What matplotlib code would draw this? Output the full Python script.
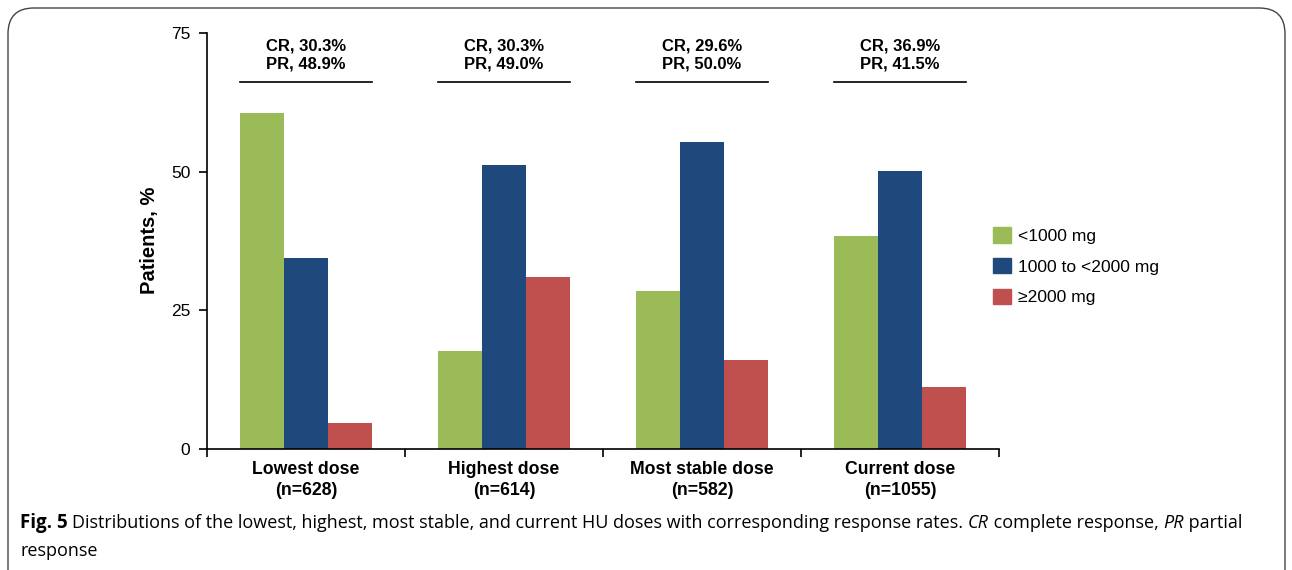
import matplotlib
matplotlib.use("Agg")
import matplotlib.pyplot as plt
from matplotlib.patches import FancyBboxPatch, Patch
import numpy as np

categories = ["Lowest dose\n(n=628)", "Highest dose\n(n=614)", "Most stable dose\n(n=582)", "Current dose\n(n=1055)"]
series_names = ["<1000 mg", "1000 to <2000 mg", "\u22652000 mg"]
low_vals = [60.6, 17.7, 28.5, 38.4]
mid_vals = [34.4, 51.2, 55.3, 50.1]
high_vals = [4.7, 31.0, 16.0, 11.2]
response_labels = ["CR, 30.3%\nPR, 48.9%", "CR, 30.3%\nPR, 49.0%", "CR, 29.6%\nPR, 50.0%", "CR, 36.9%\nPR, 41.5%"]
yticks = [0, 25, 50, 75]
colors = ["#9BBB59", "#1F497D", "#C0504D"]

plt.rcParams['font.family'] = ['Liberation Sans', 'DejaVu Sans']

W, H = 1292, 570
fig = plt.figure(figsize=(W/100, H/100), dpi=100)
ax = fig.add_axes([207/W, 1-449/H, (999-207)/W, (449-33)/H])

x = np.arange(len(categories))
bw = 0.222
for i, vals in enumerate([low_vals, mid_vals, high_vals]):
    ax.bar(x + (i-1)*bw, vals, width=bw, color=colors[i], label=series_names[i], zorder=2)

ax.set_xlim(-0.5, len(categories)-0.5)
ax.set_ylim(0, 75)
ax.set_yticks(yticks)
ax.set_yticklabels([str(t) for t in yticks], fontsize=12.5)
ax.set_xticks(np.arange(len(categories)+1) - 0.5)
ax.set_xticklabels([])
ax.set_xticks(x, minor=True)
ax.set_xticklabels(categories, minor=True, fontsize=12.7, fontweight='bold', linespacing=1.3)
ax.tick_params(axis='x', which='minor', length=0, pad=9)
ax.tick_params(axis='x', which='major', length=6, direction='out', width=1.2)
ax.tick_params(axis='y', length=6, width=1.2, direction='out', pad=6)
for s in ['top', 'right']:
    ax.spines[s].set_visible(False)
for s in ['left', 'bottom']:
    ax.spines[s].set_linewidth(1.2)

fig.text(150/W, 1-240/H, "Patients, %", rotation=90, fontsize=14.5, fontweight='bold', ha='center', va='center')

for i, lab in enumerate(response_labels):
    ax.plot([i-1.5*bw, i+1.5*bw], [66.2, 66.2], color='black', lw=1.2, clip_on=False)
    ax.text(i, 68.0, lab, ha='center', va='bottom', fontsize=12, fontweight='bold', linespacing=1.3)

handles = [Patch(color=c) for c in colors]
fig.legend(handles, series_names, loc='upper left', bbox_to_anchor=(993/W, 1-227/H),
           frameon=False, fontsize=12.6, handlelength=1.0, handleheight=1.0,
           labelspacing=0.8, handletextpad=0.45, borderpad=0, borderaxespad=0)

# caption
cfam = ['Open Sans', 'DejaVu Sans']
cfs = 13
fig.text(20/W, 1-523/H, "Fig. 5", fontsize=cfs+0.5, fontweight='bold', family=cfam, va='center')
fig.text(72/W, 1-523/H, "Distributions of the lowest, highest, most stable, and current HU doses with corresponding response rates. ",
         fontsize=cfs, family=cfam, va='center')
fig.text(20/W, 1-551/H, "response", fontsize=cfs, family=cfam, va='center')

fig.canvas.draw()
r = fig.canvas.get_renderer()
t1 = fig.texts[2]
xpos = t1.get_window_extent(r).x1
parts = [("CR", 'italic'), (" complete response, ", 'normal'), ("PR", 'italic'), (" partial", 'normal')]
for txt, st in parts:
    t = fig.text(xpos/W, 1-523/H, txt, fontsize=cfs, style=st, family=cfam, va='center')
    xpos = t.get_window_extent(r).x1

border = FancyBboxPatch((8/W, -0.05), (1285-8)/W, (1-8/H) + 0.05, boxstyle="round,pad=0,rounding_size=0.02",
                        transform=fig.transFigure, fill=False, edgecolor='#444444', lw=1.0, mutation_aspect=W/H)
fig.patches.append(border)

fig.savefig("out.png", dpi=100)
